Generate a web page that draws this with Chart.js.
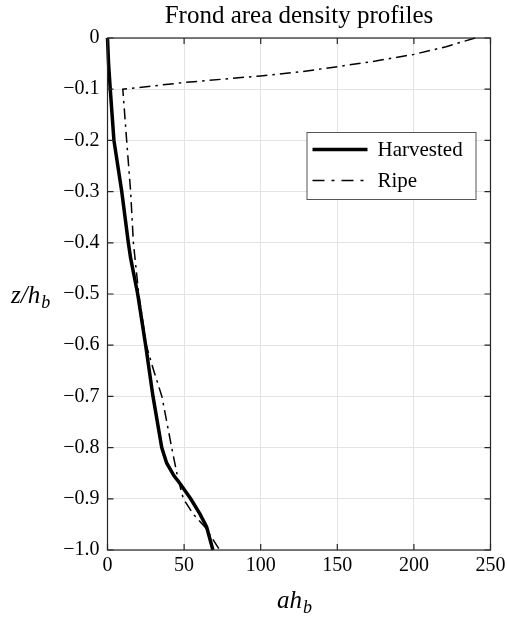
<!DOCTYPE html>
<html><head><meta charset="utf-8">
<script src="https://cdn.jsdelivr.net/npm/chart.js@4/dist/chart.umd.min.js"></script>
<style>html,body{margin:0;padding:0;background:#fff}#wrap{width:507px;height:617px;position:relative}</style>
</head><body><div id="wrap"><canvas id="c" width="507" height="617"></canvas></div>
<script>
const titleText = 'Frond area density profiles';
const seriesNames = ['Harvested', 'Ripe'];
const xTicks = [0, 50, 100, 150, 200, 250];
const yTicks = [0, -0.1, -0.2, -0.3, -0.4, -0.5, -0.6, -0.7, -0.8, -0.9, -1.0];
const harvestedZ = [0, -0.05, -0.1, -0.2, -0.3, -0.4, -0.43, -0.5, -0.6, -0.7, -0.8, -0.83, -0.855, -0.87, -0.9, -0.93, -0.955, -1.0];
const harvestedA = [0, 0.7, 1.8, 4.2, 9.3, 13.6, 15.1, 19.7, 24.9, 29.7, 35.4, 38.6, 43.4, 47.3, 54.3, 60.4, 64.7, 68.8];
const ripeZ = [0, -0.017, -0.032, -0.045, -0.056, -0.066, -0.074, -0.087, -0.1, -0.2, -0.3, -0.4, -0.5, -0.6, -0.65, -0.7, -0.8, -0.855, -0.9, -0.93, -0.955, -1.0];
const ripeA = [240, 221, 200, 175, 150, 126, 100, 50, 10, 12.5, 15.1, 16.9, 20.4, 25.3, 30.2, 35.5, 41.9, 45.6, 49.5, 56, 63.6, 73.2];

const SERIF = '"Liberation Serif", "Times New Roman", serif';
const toPts = (xs, zs) => xs.map((a, i) => ({x: a, y: zs[i]}));
const fmtY = v => Math.abs(v) < 1e-9 ? '0' : '\u2212' + Math.abs(v).toFixed(1);

const framePlugin = {
  id: 'frame',
  afterDatasetsDraw(chart) {
    const ctx = chart.ctx, a = chart.chartArea;
    const xs = chart.scales.x, ys = chart.scales.y;
    ctx.save();
    ctx.strokeStyle = '#262626';
    ctx.lineWidth = 1.2;
    ctx.strokeRect(a.left, a.top, a.right - a.left, a.bottom - a.top);
    const L = 6;
    ctx.beginPath();
    xTicks.forEach(v => {
      const p = xs.getPixelForValue(v);
      ctx.moveTo(p, a.bottom); ctx.lineTo(p, a.bottom - L);
      ctx.moveTo(p, a.top); ctx.lineTo(p, a.top + L);
    });
    yTicks.forEach(v => {
      const p = ys.getPixelForValue(v);
      ctx.moveTo(a.left, p); ctx.lineTo(a.left + L, p);
      ctx.moveTo(a.right, p); ctx.lineTo(a.right - L, p);
    });
    ctx.stroke();

    // legend box
    const bw = 169, bh = 67;
    const bx = a.right - 15 - bw, by = a.top + 94;
    ctx.fillStyle = '#fff';
    ctx.fillRect(bx, by, bw, bh);
    ctx.strokeStyle = '#555';
    ctx.lineWidth = 1;
    ctx.strokeRect(bx + 0.5, by + 0.5, bw, bh);
    chart.data.datasets.forEach((ds, i) => {
      const yy = by + 17.5 + i * 31;
      ctx.save();
      ctx.strokeStyle = ds.borderColor;
      ctx.lineWidth = ds.borderWidth;
      ctx.setLineDash(i === 1 ? [12, 7, 3, 7] : []);
      ctx.beginPath();
      ctx.moveTo(bx + 6, yy); ctx.lineTo(bx + 61, yy);
      ctx.stroke();
      ctx.restore();
      ctx.fillStyle = '#000';
      ctx.font = '21px ' + SERIF;
      ctx.textBaseline = 'middle';
      ctx.textAlign = 'left';
      ctx.fillText(ds.label, bx + 71, yy + 1);
    });

    // axis titles with subscripts
    ctx.fillStyle = '#000';
    ctx.textBaseline = 'alphabetic';
    ctx.textAlign = 'left';
    ctx.font = 'italic 25px ' + SERIF;
    const zt = 'z/h';
    ctx.fillText(zt, 11, 303);
    const zw = ctx.measureText(zt).width;
    ctx.font = 'italic 18px ' + SERIF;
    ctx.fillText('b', 11 + zw + 1, 308);

    ctx.font = 'italic 25px ' + SERIF;
    const xt = 'ah';
    const xw = ctx.measureText(xt).width;
    ctx.font = 'italic 18px ' + SERIF;
    const bwid = ctx.measureText('b').width;
    const cx = (a.left + a.right) / 2 - 5;
    const sx = cx - (xw + bwid) / 2;
    ctx.font = 'italic 25px ' + SERIF;
    ctx.fillText(xt, sx, 608);
    ctx.font = 'italic 18px ' + SERIF;
    ctx.fillText('b', sx + xw + 1, 613);
    ctx.restore();
  }
};

new Chart(document.getElementById('c'), {
  type: 'scatter',
  data: {
    datasets: [
      {label: seriesNames[0], data: toPts(harvestedA, harvestedZ), showLine: true, borderColor: '#000', backgroundColor: '#000', borderWidth: 3.5, pointRadius: 0, tension: 0, clip: false},
      {label: seriesNames[1], data: toPts(ripeA, ripeZ), showLine: true, borderColor: '#000', backgroundColor: '#000', borderWidth: 1.5, borderDash: [11, 5, 2.5, 5], pointRadius: 0, tension: 0, clip: false}
    ]
  },
  options: {
    responsive: false,
    animation: false,
    devicePixelRatio: 1,
    layout: {padding: {left: 0, right: 16.5, top: 0, bottom: 0}},
    plugins: {
      legend: {display: false},
      tooltip: {enabled: false},
      title: {display: true, fullSize: false, text: titleText, color: '#000', font: {family: SERIF, size: 25, weight: 'normal', lineHeight: 1.2}, padding: {top: 1, bottom: 7}}
    },
    scales: {
      x: {
        type: 'linear', min: 0, max: 250,
        afterBuildTicks: s => { s.ticks = xTicks.map(v => ({value: v})); },
        afterFit: s => { s.height = 67; s.paddingLeft = 0; s.paddingRight = 0; },
        ticks: {color: '#000', font: {family: SERIF, size: 20}, padding: 4, maxRotation: 0, callback: v => String(v)},
        grid: {color: '#e3e3e3', lineWidth: 1, drawTicks: false},
        border: {display: false}
      },
      y: {
        type: 'linear', min: -1, max: 0,
        afterBuildTicks: s => { s.ticks = yTicks.map(v => ({value: v})); },
        afterFit: s => { s.width = 107.5; s.paddingTop = 0; s.paddingBottom = 0; },
        ticks: {color: '#000', font: {family: SERIF, size: 20}, padding: 8, callback: fmtY},
        grid: {color: '#e3e3e3', lineWidth: 1, drawTicks: false},
        border: {display: false}
      }
    }
  },
  plugins: [framePlugin]
});
</script></body></html>
